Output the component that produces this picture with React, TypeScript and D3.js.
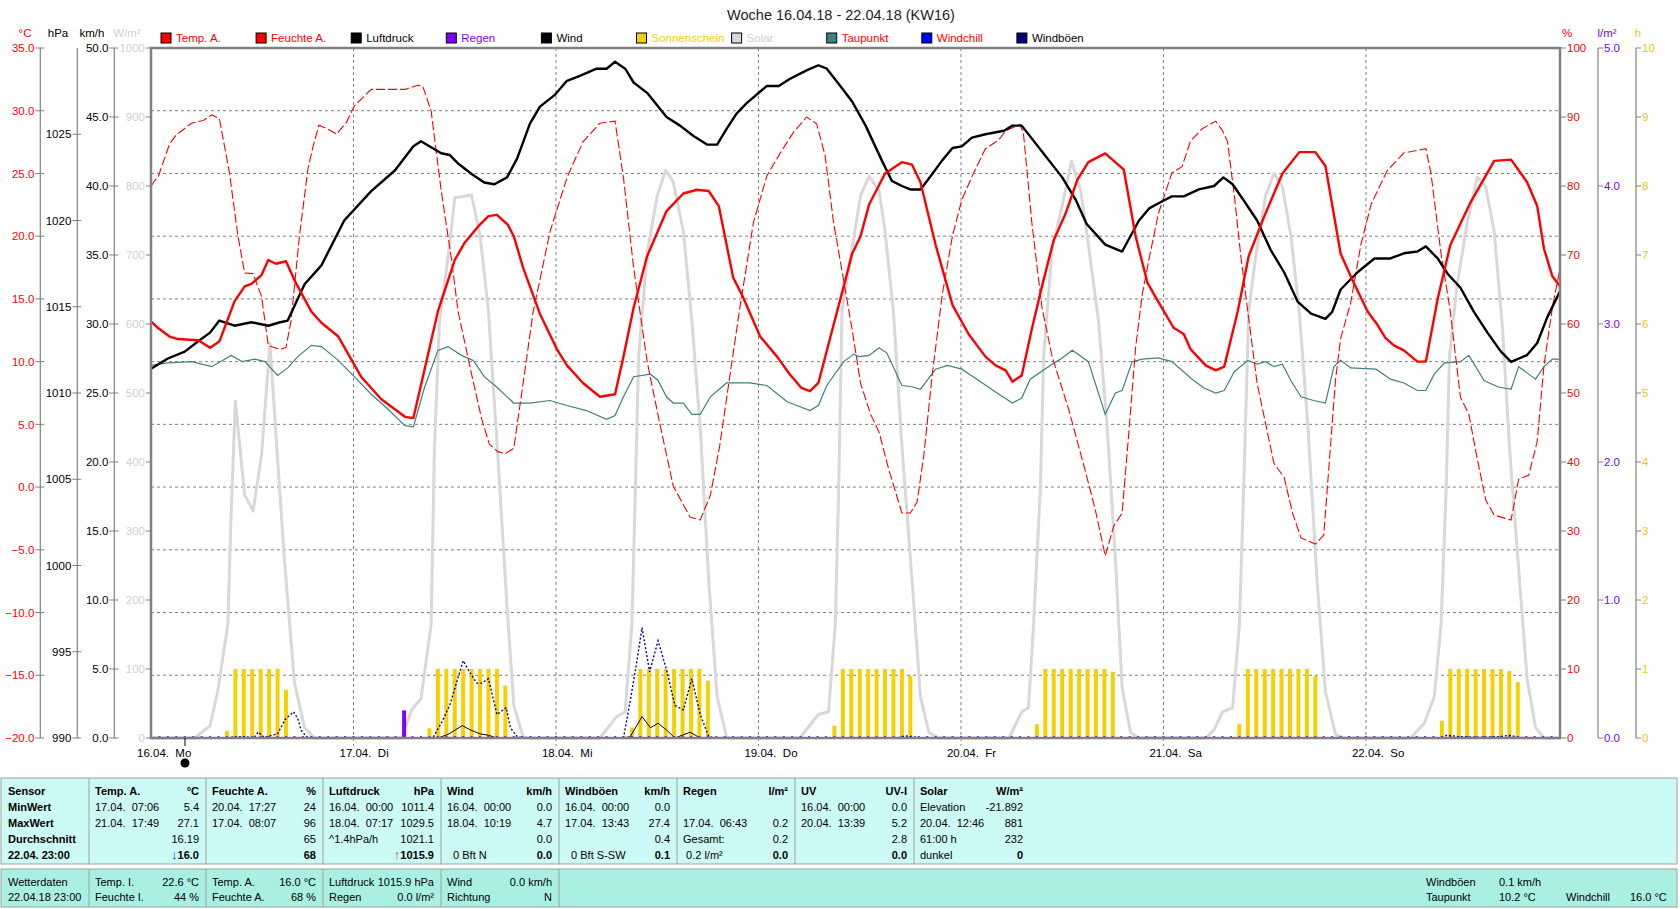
import React from "react";
import * as d3 from "d3";

// hours since 16.04. 00:00 -> value
const tempA: [number, number][] = [
	[0, 13.2], [0.8, 12.7], [2.2, 12.0], [3.2, 11.8], [5.6, 11.7], [7, 11.1], [8.1, 11.6], [9.9, 14.8], [11.1, 16.0], [11.9, 16.2],
	[13.1, 16.9], [13.9, 18.1], [14.8, 17.8], [16, 18.0], [17, 16.5], [19, 14.0], [20.2, 13.1], [22.2, 12.0], [24.9, 8.8], [27.3, 7.0],
	[30.1, 5.6], [31.1, 5.5], [34, 14.0], [36, 18.1], [37.2, 19.5], [38.8, 20.8], [40, 21.6], [41, 21.7], [42.3, 20.9], [43, 20.0],
	[44.1, 17.5], [46.1, 13.8], [48.1, 11.0], [49.3, 9.7], [51.2, 8.3], [53.2, 7.2], [55, 7.4], [56, 10.4], [57.2, 14.3], [58.8, 18.4],
	[61.1, 22.0], [63.1, 23.4], [64.7, 23.7], [66.1, 23.6], [67.3, 22.4], [69, 16.7], [70.2, 15.1], [72.2, 12.0], [74.2, 10.4], [75.7, 9.0],
	[77.1, 7.9], [78.1, 7.65], [79.1, 8.3], [80.5, 11.9], [82.1, 16.0], [83.1, 18.6], [84.1, 20.0], [85.1, 22.5], [87, 25.0], [89, 25.9],
	[90.2, 25.7], [91.2, 24.3], [93, 19.3], [95, 14.5], [96.9, 12.2], [98.9, 10.4], [100.1, 9.7], [101.3, 9.3], [102.1, 8.4], [103.2, 8.9],
	[104.4, 12.6], [105.6, 16.0], [107, 19.7], [108.4, 21.8], [109.8, 24.5], [111.1, 25.9], [113.1, 26.6], [115.3, 25.3], [116.7, 20.0], [118.1, 16.3],
	[119.1, 15.1], [121.2, 12.7], [122.4, 12.2], [123.2, 11.0], [125, 9.7], [126.2, 9.3], [127.2, 9.6], [128.8, 14.0], [130.1, 18.4], [131.9, 21.5],
	[134.1, 25.0], [136.1, 26.7], [138, 26.7], [139.2, 25.6], [141, 18.6], [142.4, 16.5], [144.2, 14.0], [145.4, 12.9], [146.3, 11.9], [147.3, 11.3],
	[148.5, 10.9], [150.1, 10.0], [151.1, 10.0], [152.5, 15.0], [154, 19.3], [156.4, 22.7], [159.2, 26.0], [161.2, 26.1], [163.1, 24.3], [164.3, 22.4],
	[165.1, 19.0], [166.1, 16.8], [167, 16.0],
];

const feuchteA: [number, number][] = [
	[0, 80.0], [0.9, 81.5], [2.2, 86.1], [3, 87.4], [4.8, 89.1], [6.2, 89.5], [7.2, 90.3], [8.1, 89.8], [9.3, 81.9], [10.3, 72.8],
	[11.1, 67.4], [12.1, 67.3], [13.1, 64.0], [13.9, 56.9], [15.3, 56.3], [16, 56.6], [16.6, 60.5], [17.6, 72.8], [18.6, 82.5], [19.2, 85.7],
	[19.9, 88.8], [20.9, 88.3], [22, 87.5], [23.2, 89.3], [24.1, 91.6], [26.1, 94.0], [30.1, 94.0], [31.6, 94.6], [32.2, 94.5], [33.2, 90.9],
	[34.4, 79.3], [35.6, 69.5], [36.4, 61.8], [38, 52.7], [39.2, 46.2], [40.1, 42.6], [41.1, 41.5], [42, 41.2], [43, 42.0], [44.1, 51.4],
	[45.3, 61.8], [47.3, 73.4], [49.3, 81.2], [51.2, 86.4], [53.2, 89.1], [55, 89.4], [56, 81.2], [57.2, 68.2], [58.8, 54.6], [60.3, 45.6],
	[61.9, 36.5], [63.9, 32.0], [65.1, 31.6], [66.3, 35.2], [67.4, 42.3], [68.6, 52.4], [69.8, 62.4], [71.4, 74.7], [73, 81.5], [74.6, 84.8],
	[76.1, 87.7], [77.7, 90.0], [78.9, 89.0], [79.9, 84.4], [80.9, 74.7], [82.1, 66.3], [83.1, 59.2], [84.1, 51.4], [85.3, 46.9], [86.3, 44.3],
	[87.4, 39.1], [89, 32.6], [90, 32.6], [90.8, 34.2], [91.6, 41.0], [92.6, 52.7], [93.8, 64.4], [95, 72.8], [96.1, 78.0], [97.5, 81.9],
	[98.9, 85.4], [100.5, 86.7], [101.3, 88.0], [103, 88.9], [103.4, 87.7], [104.4, 74.7], [105.6, 62.4], [106.8, 55.3], [108.8, 47.5], [110.8, 38.4],
	[111.9, 33.2], [113.1, 26.4], [114.1, 30.7], [115.1, 32.6], [115.9, 44.3], [116.7, 56.6], [117.5, 64.4], [118.3, 69.5], [119.4, 76.0], [121, 81.9],
	[122.2, 82.8], [123.2, 86.5], [124.6, 88.3], [126.2, 89.4], [127, 88.0], [127.6, 86.4], [128.4, 78.6], [129.2, 69.5], [130, 61.8], [131.1, 51.4],
	[132.1, 45.6], [133.1, 39.8], [134.3, 37.8], [135.3, 32.6], [136.3, 29.0], [138, 28.1], [139, 29.4], [139.6, 39.1], [140.4, 52.0], [141, 57.9],
	[142.2, 63.1], [143.4, 71.5], [144.6, 77.3], [146.5, 82.2], [148.5, 84.8], [151.1, 85.4], [151.7, 81.9], [152.9, 70.2], [154, 61.8], [155.2, 49.4],
	[156.2, 46.9], [157.2, 40.4], [158.2, 34.5], [159.2, 32.3], [161.2, 31.6], [162.1, 37.5], [163.3, 38.1], [164.3, 43.0], [165.1, 54.0], [166.1, 62.4],
	[167, 68.0],
];

const luftdruck: [number, number][] = [
	[0, 1011.4], [2, 1012.0], [4, 1012.4], [5.6, 1013.0], [7, 1013.5], [8.1, 1014.2], [9.9, 1013.9], [11.9, 1014.1], [13.9, 1013.9], [15.3, 1014.1],
	[16.2, 1014.2], [18.2, 1016.3], [20.2, 1017.4], [22.9, 1020.0], [26.1, 1021.7], [28.9, 1022.9], [31.1, 1024.3], [32, 1024.6], [33, 1024.3], [34.4, 1023.9],
	[35.4, 1023.8], [36.4, 1023.3], [38, 1022.7], [39.5, 1022.2], [40.7, 1022.1], [42.2, 1022.5], [43.4, 1023.6], [44.9, 1025.6], [46.1, 1026.6], [47.9, 1027.3],
	[49.3, 1028.1], [50.9, 1028.4], [52.8, 1028.8], [54, 1028.8], [55, 1029.2], [56.2, 1028.8], [57.2, 1028.0], [58.8, 1027.4], [61.1, 1026.0], [62.7, 1025.5],
	[64.3, 1024.9], [65.9, 1024.4], [67.1, 1024.4], [68.2, 1025.3], [69.4, 1026.2], [70.6, 1026.8], [73, 1027.8], [74.4, 1027.8], [75.7, 1028.2], [77.7, 1028.7],
	[79.1, 1029.0], [80.1, 1028.8], [81.7, 1027.8], [83.1, 1026.9], [84.7, 1025.5], [86.6, 1023.5], [87.8, 1022.3], [89, 1022.0], [90, 1021.8], [91.2, 1021.8],
	[92.6, 1022.7], [93.8, 1023.5], [95, 1024.2], [96.1, 1024.3], [97.3, 1024.8], [98.9, 1025.0], [101.1, 1025.2], [102.1, 1025.5], [103.2, 1025.5], [105.6, 1024.0],
	[108, 1022.5], [109.6, 1021.2], [110.9, 1019.8], [113.1, 1018.6], [115.1, 1018.2], [116.1, 1019.1], [117.1, 1020.0], [118.3, 1020.7], [119.8, 1021.1], [121, 1021.4],
	[122.4, 1021.4], [124.2, 1021.8], [126, 1022.0], [127.1, 1022.5], [128.2, 1022.1], [129.6, 1021.1], [131.1, 1020.0], [132.7, 1018.3], [134.3, 1017.0], [135.9, 1015.3],
	[137.5, 1014.6], [139.2, 1014.3], [140, 1014.7], [141, 1016.0], [143, 1017.0], [145, 1017.8], [146.9, 1017.8], [148.5, 1018.1], [150.1, 1018.2], [151.1, 1018.5],
	[152.5, 1017.8], [153.7, 1016.9], [155.2, 1016.1], [156.8, 1014.7], [158.4, 1013.5], [160, 1012.4], [161.2, 1011.8], [163.1, 1012.2], [164.3, 1012.9], [165.5, 1014.4],
	[167, 1015.9],
];

const taupunkt: [number, number][] = [
	[0, 9.7], [2, 9.9], [4.8, 10.0], [7.2, 9.6], [9.5, 10.5], [10.8, 10.0], [12.3, 10.2], [13.5, 10.0], [15, 8.9], [16.2, 9.5],
	[17.4, 10.4], [19, 11.3], [20.2, 11.2], [22.2, 10.1], [24.1, 8.8], [26.1, 7.4], [28.1, 6.2], [30.1, 4.9], [31.1, 4.8], [32.4, 7.9],
	[34, 10.9], [35.2, 11.2], [36.8, 10.5], [38.2, 10.1], [39.5, 8.8], [41.1, 7.9], [43, 6.7], [44.9, 6.7], [47.3, 6.9], [49.3, 6.5],
	[51.6, 6.1], [54, 5.4], [55, 5.7], [56, 7.2], [57.2, 8.8], [59.2, 9.0], [60.1, 8.5], [61.1, 7.2], [61.9, 6.7], [63.1, 6.7],
	[64.1, 5.8], [65.1, 5.8], [66.3, 7.2], [68.2, 8.3], [71, 8.3], [73, 8.1], [75.4, 6.8], [78.1, 6.1], [79.1, 6.5], [80.1, 8.1],
	[82.1, 10.0], [83.3, 10.6], [83.9, 10.4], [85.1, 10.5], [86.3, 11.1], [87.2, 10.7], [89, 8.1], [90.2, 8.0], [91.2, 7.8], [93, 9.4],
	[94.4, 9.7], [96.1, 9.4], [98.1, 8.5], [100.5, 7.4], [102.1, 6.7], [103.2, 7.1], [104.2, 8.6], [106.8, 9.8], [107.8, 10.2], [109.2, 10.9],
	[111.1, 10.0], [113.1, 5.8], [114.3, 7.5], [115.1, 7.7], [116.3, 10.0], [117.5, 10.2], [119.4, 10.3], [121, 10.0], [123.4, 8.6], [124.8, 7.9],
	[126.2, 7.5], [127.2, 7.7], [128.4, 9.2], [130, 10.1], [131.1, 9.8], [132.1, 10.0], [133.1, 9.6], [134.1, 9.8], [135.1, 8.5], [136.3, 7.2],
	[137.8, 6.9], [139.2, 6.7], [140.2, 9.6], [141, 10.1], [142.2, 9.5], [145.2, 9.4], [146.9, 8.6], [148.5, 8.3], [150.1, 7.7], [151.1, 7.7],
	[152.1, 9.0], [153.3, 9.9], [155.2, 10.0], [156.2, 10.5], [158, 8.5], [159.6, 8.0], [161.2, 7.8], [162.1, 9.6], [164.1, 8.6], [165.1, 9.6],
	[166.1, 10.2], [167, 10.2],
];

const solar: [number, number][] = [
	[0, 0], [5.2, 0], [7, 18], [7.9, 67], [9.1, 164], [9.5, 326], [10, 488], [11.1, 352], [12.1, 329], [13.1, 410], [14.1, 572], [14.9, 423],
	[15.8, 261], [17, 80], [18.2, 15], [19.4, 0], [29.7, 0], [30.9, 41], [32, 57], [33.2, 164], [33.6, 423], [34.2, 605], [35.4, 715], [36, 783],
	[38, 787], [39, 728], [40, 618], [41.1, 410], [42.2, 190], [43, 47], [44.1, 2], [44.5, 0], [53.2, 0], [55.2, 31], [56.2, 38], [57, 164],
	[57.4, 358], [57.8, 553], [58.8, 702], [60, 786], [61, 823], [61.9, 806], [63.1, 734], [64.1, 605], [65.1, 449], [66.1, 229], [67.1, 60], [68.2, 2],
	[68.5, 0], [76.9, 0], [79.1, 34], [80.3, 38], [81.1, 164], [81.5, 358], [81.9, 618], [82.9, 695], [84.1, 786], [85.1, 814], [86.3, 793], [87, 734],
	[88, 618], [89, 423], [90.2, 229], [91.2, 60], [92.2, 8], [93.4, 0], [101.7, 0], [103.2, 38], [104, 44], [104.6, 164], [105.4, 358], [105.8, 553],
	[106.8, 708], [108.2, 783], [109.1, 836], [110.2, 793], [111.1, 715], [112.3, 605], [113.3, 456], [114.3, 261], [115.1, 73], [116.1, 8], [117.1, 0], [125, 0],
	[126, 12], [127, 38], [128.2, 44], [129, 164], [129.5, 358], [130.1, 618], [130.9, 695], [132.1, 786], [133.1, 818], [134.1, 799], [135.1, 728], [136.1, 618],
	[137.1, 456], [138.2, 229], [139.2, 67], [140.4, 5], [141.4, 0], [149.3, 0], [150.9, 21], [152.1, 60], [152.9, 164], [153.5, 358], [153.9, 553], [154.8, 656],
	[156, 747], [157.2, 813], [158.2, 799], [159.2, 734], [160.2, 592], [161, 423], [162, 261], [163.1, 86], [164.1, 15], [165.1, 0], [167, 0],
];

// hourly sunshine duration (h)
const sonnenschein: [number, number][] = [
	[9, 0.1], [10, 1], [11, 1], [12, 1], [13, 1], [14, 1], [15, 1], [16, 0.7],
	[33, 0.14], [34, 1], [35, 1], [36, 1], [37, 1], [38, 1], [39, 1], [40, 1], [41, 1], [42, 0.76],
	[57, 0.15], [58, 1], [59, 1], [60, 1], [61, 1], [62, 1], [63, 1], [64, 1], [65, 1], [66, 0.83],
	[81, 0.18], [82, 1], [83, 1], [84, 1], [85, 1], [86, 1], [87, 1], [88, 1], [89, 1], [90, 0.9],
	[105, 0.2], [106, 1], [107, 1], [108, 1], [109, 1], [110, 1], [111, 1], [112, 1], [113, 1], [114, 0.96],
	[129, 0.2], [130, 1], [131, 1], [132, 1], [133, 1], [134, 1], [135, 1], [136, 1], [137, 1], [138, 0.9],
	[153, 0.25], [154, 1], [155, 1], [156, 1], [157, 1], [158, 1], [159, 1], [160, 1], [161, 0.97], [162, 0.81],
];

const regen: [number, number][] = [[30, 0.2]];

const windboeen: [number, number][] = [
	[0, 0], [9, 0], [9.7, 0.07], [11.1, 0.1], [12.2, 0], [12.7, 0.43], [13.4, 0.05], [15, 0.3], [15.9, 1.35], [16.9, 1.9],
	[17.4, 1.4], [17.8, 0.56], [18.4, 0.1], [19, 0], [33.4, 0], [34.4, 1.07], [35.4, 2.36], [36.2, 3.98], [37, 5.6], [37.6, 4.95],
	[38.6, 3.98], [39.2, 3.98], [40, 4.3], [41, 1.7], [42.1, 2.2], [42.6, 0.74], [43.4, 0.1], [44.2, 0], [56, 0], [56.8, 2.7],
	[57.6, 5.6], [58.2, 8.0], [59.1, 4.8], [60.1, 7.05], [61.1, 4.95], [62.1, 2.36], [63.1, 2.04], [64.1, 4.3], [65.1, 1.7], [66.1, 0.1],
	[67, 0], [88.5, 0], [89.3, 0.15], [90.3, 0.1], [91, 0], [153, 0], [153.6, 0.2], [155, 0.1], [157.5, 0.05], [160, 0.1],
	[161, 0.2], [162, 0.05], [163, 0], [167, 0],
];

const wind: [number, number][] = [
	[0, 0], [34, 0], [35.2, 0.26], [36.9, 0.9], [37.8, 0.6], [39, 0.3], [40, 0.2], [41, 0], [56, 0], [56.8, 0.1],
	[58.2, 1.55], [59.2, 0.74], [60.1, 1.07], [61.1, 0.58], [62.1, 0], [63.9, 0.42], [65.1, 0], [167, 0],
];

const dayLabels = ["16.04.  Mo", "17.04.  Di", "18.04.  Mi", "19.04.  Do", "20.04.  Fr", "21.04.  Sa", "22.04.  So"];
const tempTicks = [35, 30, 25, 20, 15, 10, 5, 0, -5, -10, -15, -20];
const pressTicks = [1025, 1020, 1015, 1010, 1005, 1000, 995, 990];
const windTicks = [50, 45, 40, 35, 30, 25, 20, 15, 10, 5, 0];
const solarTicks = [1000, 900, 800, 700, 600, 500, 400, 300, 200, 100, 0];
const humTicks = [100, 90, 80, 70, 60, 50, 40, 30, 20, 10, 0];
const rainTicks = [5, 4, 3, 2, 1, 0];
const sunTicks = [10, 9, 8, 7, 6, 5, 4, 3, 2, 1, 0];

const legendItems = [
	{ name: "Temp. A.", fill: "#ff0000", text: "#ff0000" },
	{ name: "Feuchte A.", fill: "#ff0000", text: "#ff0000" },
	{ name: "Luftdruck", fill: "#000000", text: "#000000" },
	{ name: "Regen", fill: "#8000ff", text: "#8000ff" },
	{ name: "Wind", fill: "#000000", text: "#000000" },
	{ name: "Sonnenschein", fill: "#f6d000", text: "#f6d000" },
	{ name: "Solar", fill: "#d8d8d8", text: "#d0d0d0" },
	{ name: "Taupunkt", fill: "#408080", text: "#ff0000" },
	{ name: "Windchill", fill: "#0000ff", text: "#ff0000" },
	{ name: "Windböen", fill: "#000080", text: "#000000" },
];

// statistics table: [left text, right text] per row
const statLabels = ["Sensor", "MinWert", "MaxWert", "Durchschnitt", "22.04. 23:00"];
const statCols: [string, string][][] = [
	[["Temp. A.", "°C"], ["17.04.  07:06", "5.4"], ["21.04.  17:49", "27.1"], ["", "16.19"], ["", "↓16.0"]],
	[["Feuchte A.", "%"], ["20.04.  17:27", "24"], ["17.04.  08:07", "96"], ["", "65"], ["", "68"]],
	[["Luftdruck", "hPa"], ["16.04.  00:00", "1011.4"], ["18.04.  07:17", "1029.5"], ["^1.4hPa/h", "1021.1"], ["", "↑1015.9"]],
	[["Wind", "km/h"], ["16.04.  00:00", "0.0"], ["18.04.  10:19", "4.7"], ["", "0.0"], ["  0 Bft N", "0.0"]],
	[["Windböen", "km/h"], ["16.04.  00:00", "0.0"], ["17.04.  13:43", "27.4"], ["", "0.4"], ["  0 Bft S-SW", "0.1"]],
	[["Regen", "l/m²"], ["", ""], ["17.04.  06:43", "0.2"], ["Gesamt:", "0.2"], [" 0.2 l/m²", "0.0"]],
	[["UV", "UV-I"], ["16.04.  00:00", "0.0"], ["20.04.  13:39", "5.2"], ["", "2.8"], ["", "0.0"]],
	[["Solar", "W/m²"], ["Elevation", "-21.892"], ["20.04.  12:46", "881"], ["61:00 h", "232"], ["dunkel", "0"]],
];
const currentLabel = ["Wetterdaten", "22.04.18 23:00"];
const currentCols: [string, string][][] = [
	[["Temp. I.", "22.6 °C"], ["Feuchte I.", "44 %"]],
	[["Temp. A.", "16.0 °C"], ["Feuchte A.", "68 %"]],
	[["Luftdruck", "1015.9 hPa"], ["Regen", "0.0 l/m²"]],
	[["Wind", "0.0 km/h"], ["Richtung", "N"]],
];
const currentExtra = [
	["Windböen", "0.1 km/h", "", ""],
	["Taupunkt", "10.2 °C", "Windchill", "16.0 °C"],
];

const W = 1680;
const H = 909;
const M = { left: 151, right: 1560, top: 48, bottom: 738 };
const FONT = "'Liberation Sans', Arial, sans-serif";
const GRID = "#808080";

const x = d3.scaleLinear().domain([0, 167]).range([M.left, M.right]);
const yTemp = d3.scaleLinear().domain([-20, 35]).range([M.bottom, M.top]);
const yPress = d3.scaleLinear().domain([990, 1030]).range([M.bottom, M.top]);
const yWind = d3.scaleLinear().domain([0, 50]).range([M.bottom, M.top]);
const ySolar = d3.scaleLinear().domain([0, 1000]).range([M.bottom, M.top]);
const yHum = d3.scaleLinear().domain([0, 100]).range([M.bottom, M.top]);
const yRain = d3.scaleLinear().domain([0, 5]).range([M.bottom, M.top]);
const ySun = d3.scaleLinear().domain([0, 10]).range([M.bottom, M.top]);

const pathFor = (data: [number, number][], y: d3.ScaleLinear<number, number>) =>
	d3.line<[number, number]>().x((d) => x(d[0])).y((d) => y(d[1]))(data) ?? "";

type AxisProps = {
	lineX: number;
	ticks: number[];
	scale: d3.ScaleLinear<number, number>;
	fmt: (v: number) => string;
	color: string;
	side: "left" | "right";
	drawLine?: boolean;
};

function VAxis({ lineX, ticks, scale, fmt, color, side, drawLine = true }: AxisProps) {
	return (
		<g>
			{drawLine && <line x1={lineX} x2={lineX} y1={M.top} y2={M.bottom} stroke={GRID} strokeWidth={1.2} />}
			{ticks.map((t) => (
				<g key={t}>
					<line
						x1={side === "left" ? lineX - 5 : lineX}
						x2={side === "left" ? lineX + (drawLine ? 4 : 0) : lineX + 5}
						y1={scale(t)}
						y2={scale(t)}
						stroke={GRID}
					/>
					<text
						x={side === "left" ? lineX - 6 : lineX + 6}
						y={scale(t)}
						dy="0.36em"
						textAnchor={side === "left" ? "end" : "start"}
						fill={color}
						fontSize={11.5}
					>
						{fmt(t)}
					</text>
				</g>
			))}
		</g>
	);
}

export default function App() {
	const f1 = d3.format(".1f");
	const fi = (v: number) => String(v);
	const dayX = d3.range(1, 7).map((d) => x(d * 24));
	const gridT = tempTicks.filter((t) => t > -20 && t < 35);
	const colEdges = [89, 206, 323, 441, 559, 677, 795, 914, 1030];
	const rowY = [795, 811, 827, 843, 859];
	const lowY = [886, 901];

	return (
		<div style={{ position: "absolute", left: 0, top: 0, background: "#fff" }}>
			<svg width={W} height={H} style={{ display: "block", fontFamily: FONT }}>
				<rect width={W} height={H} fill="#ffffff" />

				{/* title */}
				<text x={841} y={20} textAnchor="middle" fontSize={14.5} fill="#222">
					Woche 16.04.18 - 22.04.18 (KW16)
				</text>

				{/* unit labels */}
				<g fontSize={11.5}>
					<text x={25} y={37} textAnchor="middle" fill="#ff0000">°C</text>
					<text x={58} y={37} textAnchor="middle" fill="#000">hPa</text>
					<text x={92} y={37} textAnchor="middle" fill="#000">km/h</text>
					<text x={127} y={37} textAnchor="middle" fill="#d0d0d0">W/m²</text>
					<text x={1567} y={37} textAnchor="middle" fill="#ff0000">%</text>
					<text x={1607} y={37} textAnchor="middle" fill="#8000ff">l/m²</text>
					<text x={1638} y={37} textAnchor="middle" fill="#f0c800">h</text>
				</g>

				{/* legend */}
				<g fontSize={11.5}>
					{legendItems.map((it, i) => {
						const lx = 161 + i * 95.1;
						return (
							<g key={it.name}>
								<rect x={lx} y={33} width={10} height={10} fill={it.fill} stroke="#000" strokeWidth={1} />
								<text x={lx + 15} y={42} fill={it.text}>{it.name}</text>
							</g>
						);
					})}
				</g>

				{/* grid */}
				<g stroke={GRID} strokeDasharray="3,3" strokeWidth={1}>
					{gridT.map((t) => (
						<line key={t} x1={M.left} x2={M.right} y1={yTemp(t)} y2={yTemp(t)} />
					))}
					{dayX.map((dx, i) => (
						<line key={i} x1={dx} x2={dx} y1={M.top} y2={M.bottom + 8} />
					))}
				</g>

				{/* solar radiation */}
				<path d={pathFor(solar, ySolar)} fill="none" stroke="#d8d8d8" strokeWidth={3} strokeLinejoin="round" />

				{/* sunshine bars */}
				<g fill="#f6d000">
					{sonnenschein.map(([t, v]) => (
						<rect key={t} x={x(t) - 2} y={ySun(v)} width={4} height={M.bottom - ySun(v)} />
					))}
				</g>

				{/* rain */}
				<g fill="#8000ff">
					{regen.map(([t, v]) => (
						<rect key={t} x={x(t) - 2} y={yRain(v)} width={4} height={M.bottom - yRain(v)} />
					))}
					{d3.range(0, 168).map((h) => (
						<rect key={"r" + h} x={x(h) - 1} y={M.bottom - 2} width={2} height={2} />
					))}
				</g>

				{/* dew point */}
				<path d={pathFor(taupunkt, yTemp)} fill="none" stroke="#3f8080" strokeWidth={1.2} />

				{/* humidity */}
				<path d={pathFor(feuchteA, yHum)} fill="none" stroke="#ff0000" strokeWidth={1.1} strokeDasharray="9,3" />

				{/* pressure */}
				<path d={pathFor(luftdruck, yPress)} fill="none" stroke="#000" strokeWidth={2.4} strokeLinejoin="round" />

				{/* temperature */}
				<path d={pathFor(tempA, yTemp)} fill="none" stroke="#ff0000" strokeWidth={2.4} strokeLinejoin="round" />

				{/* wind gusts and wind */}
				<path d={pathFor(windboeen, yWind)} fill="none" stroke="#0000a0" strokeWidth={1.4} strokeDasharray="2,2" />
				<path d={pathFor(wind, yWind)} fill="none" stroke="#000" strokeWidth={1} />

				{/* plot frame */}
				<rect x={M.left} y={M.top} width={M.right - M.left} height={M.bottom - M.top} fill="none" stroke={GRID} strokeWidth={2.5} />

				{/* axes */}
				<VAxis lineX={40.3} ticks={tempTicks} scale={yTemp} fmt={f1} color="#ff0000" side="left" />
				<VAxis lineX={77.3} ticks={pressTicks} scale={yPress} fmt={fi} color="#000" side="left" />
				<VAxis lineX={114.3} ticks={windTicks} scale={yWind} fmt={f1} color="#000" side="left" />
				<VAxis lineX={M.left} ticks={solarTicks} scale={ySolar} fmt={fi} color="#d0d0d0" side="left" drawLine={false} />
				<VAxis lineX={M.right + 1} ticks={humTicks} scale={yHum} fmt={fi} color="#ff0000" side="right" drawLine={false} />
				<VAxis lineX={1598} ticks={rainTicks} scale={yRain} fmt={f1} color="#8000ff" side="right" />
				<VAxis lineX={1636} ticks={sunTicks} scale={ySun} fmt={fi} color="#f0c800" side="right" />

				{/* day labels */}
				<g fontSize={11.5} fill="#000">
					{dayLabels.map((l, i) => (
						<text key={l} x={x(i * 24) - 14} y={757} xmlSpace="preserve">
							{l}
						</text>
					))}
				</g>
				{/* moon marker */}
				<line x1={185} x2={185} y1={M.bottom} y2={746} stroke="#000" />
				<circle cx={185} cy={763} r={4.5} fill="#000" />

				{/* statistics table */}
				<g fontSize={11} fill="#000">
					<rect x={1} y={778} width={1676} height={86} fill="#ccfaf6" stroke="#a0a0a0" />
					{colEdges.slice(0, 8).map((cx) => (
						<line key={cx} x1={cx} x2={cx} y1={778} y2={864} stroke="#a0a0a0" />
					))}
					{statLabels.map((l, i) => (
						<text key={l} x={8} y={rowY[i]} fontWeight="bold">{l}</text>
					))}
					{statCols.map((col, ci) =>
						col.map(([l, r], ri) => {
							const bold = ri === 0 || ri === 4;
							const lx = colEdges[ci] + 6;
							const rx = colEdges[ci + 1] - 7;
							const arrow = r.startsWith("↓") || r.startsWith("↑");
							return (
								<g key={ci + "-" + ri}>
									{l && (
										<text x={lx} y={rowY[ri]} fontWeight={ri === 0 ? "bold" : "normal"} xmlSpace="preserve">{l}</text>
									)}
									{r && (
										<text x={rx} y={rowY[ri]} textAnchor="end" fontWeight={bold ? "bold" : "normal"}>
											{arrow ? (
												<>
													<tspan fill={r[0] === "↓" ? "#0040ff" : "#c04000"} fontSize={13}>{r[0]}</tspan>
													<tspan>{r.slice(1)}</tspan>
												</>
											) : (
												r
											)}
										</text>
									)}
								</g>
							);
						})
					)}

					<rect x={1} y={869} width={1676} height={38} fill="#aaf0e2" stroke="#a0a0a0" />
					{colEdges.slice(0, 5).map((cx) => (
						<line key={"l" + cx} x1={cx} x2={cx} y1={869} y2={907} stroke="#a0a0a0" />
					))}
					{currentLabel.map((l, i) => (
						<text key={l} x={8} y={lowY[i]}>{l}</text>
					))}
					{currentCols.map((col, ci) =>
						col.map(([l, r], ri) => (
							<g key={"c" + ci + ri}>
								<text x={colEdges[ci] + 6} y={lowY[ri]}>{l}</text>
								<text x={colEdges[ci + 1] - 7} y={lowY[ri]} textAnchor="end">{r}</text>
							</g>
						))
					)}
					{currentExtra.map((row, ri) => (
						<g key={"e" + ri}>
							<text x={1426} y={lowY[ri]}>{row[0]}</text>
							<text x={1499} y={lowY[ri]}>{row[1]}</text>
							{row[2] && <text x={1566} y={lowY[ri]}>{row[2]}</text>}
							{row[3] && <text x={1630} y={lowY[ri]}>{row[3]}</text>}
						</g>
					))}
				</g>
			</svg>
		</div>
	);
}
